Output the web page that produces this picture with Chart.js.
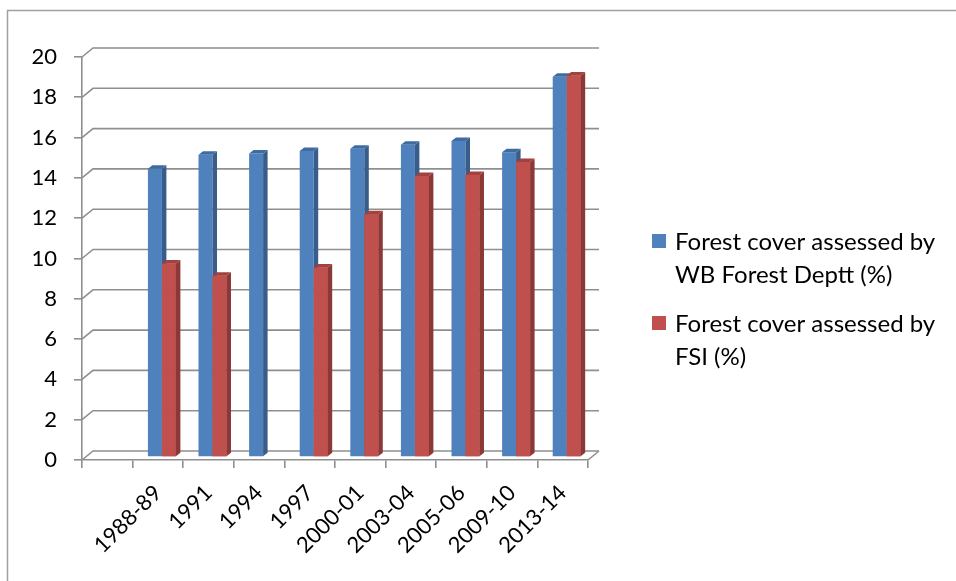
<!DOCTYPE html>
<html>
<head>
<meta charset="utf-8">
<script src="https://cdn.jsdelivr.net/npm/chart.js@4.4.1/dist/chart.umd.min.js"></script>
<style>
  html,body{margin:0;padding:0;background:#fff;}
  #wrap{width:956px;height:581px;position:relative;}
</style>
</head>
<body>
<div id="wrap"><canvas id="chart" width="956" height="581"></canvas></div>
<script>
// data (first category is empty in the original)
const categories = ['', '1988-89', '1991', '1994', '1997', '2000-01', '2003-04', '2005-06', '2009-10', '2013-14'];
const wbDeptt = [null, 14.3, 15.0, 15.06, 15.18, 15.3, 15.5, 15.68, 15.12, 18.87];
const fsi = [null, 9.6, 9.0, null, 9.4, 12.05, 13.95, 14.0, 14.64, 18.93];
const seriesLabels = [
  ['Forest cover assessed by', 'WB Forest Deptt (%)'],
  ['Forest cover assessed by', 'FSI (%)']
];
const yMin = 0, yMax = 20, yStep = 2;

const FONT = 'Lato, "Open Sans", sans-serif';
const GRID = '#8f8f8f';
const colors = [
  { front:'#4F81BD', side:'#385D8A', top:'#3F6BA3' },
  { front:'#C0504D', side:'#8C3836', top:'#A2413E' }
];
const wall = { dx:11, dy:-9 };     // depth of the back wall
const shift = { dx:4, dy:-3 };     // bars sit half way into the floor
const bd = { dx:4.5, dy:-3.5 };    // depth of one bar

function faces(ctx, bar, c){
  const p = bar.getProps(['x','y','base','width'], true);
  const l = p.x - p.width/2, r = p.x + p.width/2;
  ctx.fillStyle = c.side;
  ctx.beginPath();
  ctx.moveTo(r, p.y); ctx.lineTo(r+bd.dx, p.y+bd.dy);
  ctx.lineTo(r+bd.dx, p.base+bd.dy); ctx.lineTo(r, p.base);
  ctx.closePath(); ctx.fill();
  ctx.fillStyle = c.top;
  ctx.beginPath();
  ctx.moveTo(l, p.y); ctx.lineTo(l+bd.dx, p.y+bd.dy);
  ctx.lineTo(r+bd.dx, p.y+bd.dy); ctx.lineTo(r, p.y);
  ctx.closePath(); ctx.fill();
}

const look3d = {
  id:'look3d',
  beforeDatasetsDraw(chart){
    const ctx = chart.ctx, a = chart.chartArea, ys = chart.scales.y;
    ctx.save();
    ctx.strokeStyle = GRID; ctx.lineWidth = 1.6;
    ys.ticks.forEach(t=>{
      const y = ys.getPixelForValue(t.value);
      ctx.beginPath();
      ctx.moveTo(a.left, y);
      ctx.lineTo(a.left+wall.dx, y+wall.dy);
      ctx.lineTo(a.right+wall.dx, y+wall.dy);
      ctx.stroke();
    });
    ctx.beginPath();
    ctx.moveTo(a.right, a.bottom);
    ctx.lineTo(a.right+wall.dx, a.bottom+wall.dy);
    ctx.stroke();
    ctx.restore();
  },
  beforeDatasetDraw(chart){
    chart.ctx.save();
    chart.ctx.translate(shift.dx, shift.dy);
  },
  afterDatasetDraw(chart, args){
    const ctx = chart.ctx;
    if(args.index === 0){
      // blue is drawn last by Chart.js; put the red bars back in front of its sides
      const m0 = chart.getDatasetMeta(0), m1 = chart.getDatasetMeta(1);
      m0.data.forEach((bar,i)=>{
        if(wbDeptt[i] != null) faces(ctx, bar, colors[0]);
        if(fsi[i] != null){
          m1.data[i].draw(ctx);
          faces(ctx, m1.data[i], colors[1]);
        }
      });
    }
    ctx.restore();
  },
  afterDraw(chart){
    const ctx = chart.ctx;
    ctx.save();
    // outer frame
    ctx.strokeStyle = '#a0a0a0'; ctx.lineWidth = 1.5;
    ctx.strokeRect(7.5, 10.5, 1200, 1200);
    // legend
    ctx.font = '24px ' + FONT;
    ctx.textBaseline = 'alphabetic';
    let y = 250;
    chart.data.datasets.forEach((ds,i)=>{
      ctx.fillStyle = ds.backgroundColor;
      ctx.fillRect(652, y-16, 14, 14);
      ctx.fillStyle = '#000';
      ds.label.forEach((line,k)=>{
        ctx.fillText(line, 675, y + k*32.5);
      });
      y += 82;
    });
    ctx.restore();
  }
};

new Chart(document.getElementById('chart'), {
  type:'bar',
  data:{
    labels: categories,
    datasets:[
      { label: seriesLabels[0], data: wbDeptt, backgroundColor: colors[0].front, borderWidth:0 },
      { label: seriesLabels[1], data: fsi, backgroundColor: colors[1].front, borderWidth:0 }
    ]
  },
  options:{
    responsive:false,
    animation:false,
    devicePixelRatio:1,
    layout:{ padding:{ top:57, right:368, bottom:0, left:0 } },
    datasets:{ bar:{ barPercentage:1, categoryPercentage:0.553 } },
    plugins:{ legend:{ display:false }, tooltip:{ enabled:false } },
    scales:{
      x:{
        grid:{ display:true, drawOnChartArea:false, drawTicks:true, tickLength:8, color:GRID, lineWidth:1.6, offset:true },
        border:{ display:true, color:GRID, width:1.6 },
        ticks:{ autoSkip:false, minRotation:45, maxRotation:45, padding:12, color:'#000', font:{ family:FONT, size:22 } },
        afterFit(s){ s.height = 581 - 460; }
      },
      y:{
        min:yMin, max:yMax,
        grid:{ drawOnChartArea:false, drawTicks:true, tickLength:8, color:GRID, lineWidth:1.6 },
        border:{ display:true, color:GRID, width:1.6 },
        ticks:{ stepSize:yStep, padding:17, color:'#000', font:{ family:FONT, size:22 } },
        afterFit(s){ s.width = 82; }
      }
    }
  },
  plugins:[look3d]
});
</script>
</body>
</html>
